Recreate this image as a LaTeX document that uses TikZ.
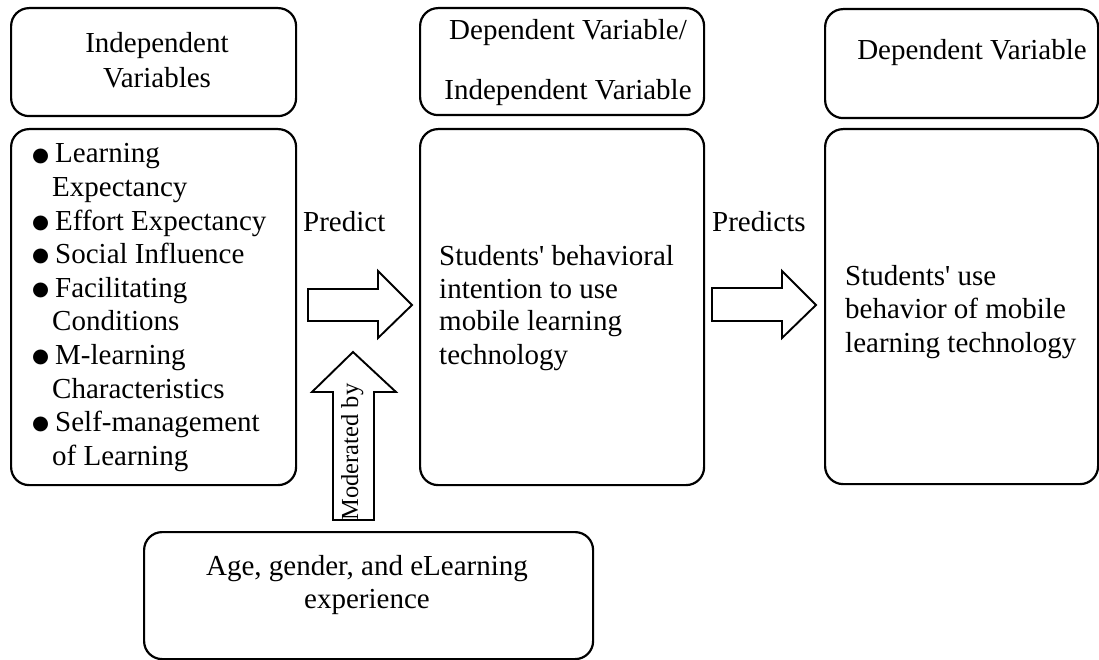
\documentclass[tikz,border=0pt]{standalone}
\usepackage{fontspec}
\setmainfont{Liberation Serif}
\newfontfamily\djv{DejaVu Sans}
\newcommand{\blt}{\makebox[23pt][l]{\raisebox{1.8pt}{\fontsize{19.5}{19.5}\selectfont\djv ●}}}
\newcommand{\ind}{\hspace*{20pt}}
\newcommand{\apo}{\textquotesingle}
\begin{document}
\begin{tikzpicture}[x=1pt,y=-1pt,
  box/.style={draw, line width=2.2pt, rounded corners=18pt, inner sep=0pt, anchor=north west},
  txt/.style={inner sep=0pt, font=\fontsize{29}{33.6}\selectfont},
  bigarrow/.style={draw, line width=1.9pt, fill=white}]
\useasboundingbox (0,0) rectangle (1099,660);
% boxes
\node[box, minimum width=285pt, minimum height=108pt] (h1) at (10,7) {};
\node[box, minimum width=284pt, minimum height=107pt] (h2) at (419,7) {};
\node[box, minimum width=273pt, minimum height=109pt] (h3) at (824,8) {};
\node[box, minimum width=285pt, minimum height=356pt] (b1) at (10,128) {};
\node[box, minimum width=284pt, minimum height=356pt] (b2) at (419,128) {};
\node[box, minimum width=273pt, minimum height=355pt] (b3) at (824,128) {};
\node[box, minimum width=449pt, minimum height=127pt] (b4) at (143,531) {};
% texts
\node[txt, font=\fontsize{29}{35}\selectfont, text width=280pt, align=flush center, anchor=base] (t1) at (157,53) {Independent\\Variables};
\node[txt, font=\fontsize{29}{60}\selectfont, text width=280pt, align=flush center, anchor=base] (t2) at (568,40) {Dependent Variable/\\Independent Variable};
\node[txt, text width=270pt, align=flush center, anchor=base] (t3) at (972,60) {Dependent Variable};
\node[txt, text width=262pt, align=flush left, anchor=base west] (t4) at (32,163) {\blt Learning\\
\ind Expectancy\\
\blt Effort Expectancy\\
\blt Social Influence\\
\blt Facilitating\\
\ind Conditions\\
\blt M-learning\\
\ind Characteristics\\
\blt Self-management\\
\ind of Learning};
\node[txt, font=\fontsize{29}{33}\selectfont, text width=262pt, align=flush left, anchor=base west] (t5) at (439,265) {Students\apo{} behavioral\\intention to use\\mobile learning\\technology};
\node[txt, text width=250pt, align=flush left, anchor=base west] (t6) at (845,285) {Students\apo{} use\\behavior of mobile\\learning technology};
\node[txt, font=\fontsize{29}{33}\selectfont, text width=440pt, align=flush center, anchor=base] (t7) at (367,575) {Age, gender, and eLearning\\experience};
\node[txt, anchor=base west] (p1) at (303,232) {Predict};
\node[txt, anchor=base west] (p2) at (712,232) {Predicts};
% arrows
\draw[bigarrow] (308,289) -- (378,289) -- (378,271) -- (412,305) -- (378,338) -- (378,321) -- (308,321) -- cycle;
\draw[bigarrow] (712,288) -- (782,288) -- (782,271) -- (816,305) -- (782,338) -- (782,321) -- (712,321) -- cycle;
\draw[bigarrow] (333,520) -- (333,392) -- (312,392) -- (353,352) -- (396,392) -- (374,392) -- (374,520) -- cycle;
\node[txt, font=\fontsize{24.5}{25}\selectfont, rotate=90, anchor=base] (mod) at (358,452) {Moderated by};
\end{tikzpicture}
\end{document}
